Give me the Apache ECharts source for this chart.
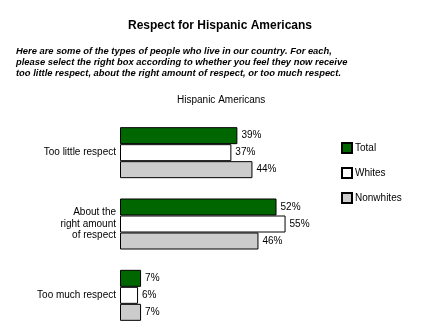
<!DOCTYPE html>
<html>
<head>
<meta charset="utf-8">
<script src="https://cdn.jsdelivr.net/npm/echarts@6/dist/echarts.min.js"></script>
<style>
  html, body { margin: 0; padding: 0; background: #fff; }
  #chart { width: 440px; height: 335px; }
</style>
</head>
<body>
<div id="chart"></div>
<script>
// Survey responses, percent of respondents
const categories = ['Too little respect', 'About the\nright amount\nof respect', 'Too much respect'];
const seriesNames = ['Total', 'Whites', 'Nonwhites'];
const totalValues = [39, 52, 7];
const whitesValues = [37, 55, 6];
const nonwhitesValues = [44, 46, 7];

const seriesColors = ['#006600', '#ffffff', '#cccccc'];
const seriesValues = [totalValues, whitesValues, nonwhitesValues];

const FONT = 'Liberation Sans, Arial, sans-serif';

const chart = echarts.init(document.getElementById('chart'), null, { renderer: 'canvas' });

chart.setOption({
  animation: false,
  textStyle: { fontFamily: FONT },
  title: [
    {
      text: 'Respect for Hispanic Americans',
      left: 'center',
      top: 20,
      padding: 0,
      textStyle: { fontSize: 12, fontWeight: 'bold', color: '#000', fontFamily: FONT }
    },
    {
      text: 'Here are some of the types of people who live in our country. For each,\nplease select the right box according to whether you feel they now receive\ntoo little respect, about the right amount of respect, or too much respect.',
      left: 16,
      top: 46,
      padding: 0,
      textStyle: { fontSize: 9.4, fontWeight: 'bold', fontStyle: 'italic', color: '#000', lineHeight: 11, fontFamily: FONT }
    },
    {
      text: 'Hispanic Americans',
      left: 177,
      top: 95,
      padding: 0,
      textStyle: { fontSize: 10, fontWeight: 'normal', color: '#000', fontFamily: FONT }
    }
  ],
  legend: {
    orient: 'vertical',
    left: 341,
    top: 142,
    padding: 0,
    itemWidth: 10,
    itemHeight: 10,
    itemGap: 13,
    icon: 'rect',
    data: seriesNames,
    textStyle: { fontSize: 10, color: '#000', fontFamily: FONT, padding: [0, 0, 0, -2] }
  },
  grid: { left: 120, right: 19, top: 117, bottom: 4, containLabel: false },
  xAxis: {
    type: 'value',
    min: 0,
    max: 100,
    show: false
  },
  yAxis: {
    type: 'category',
    inverse: true,
    data: categories,
    axisLine: { show: false },
    axisTick: { show: false },
    axisLabel: { margin: 4, fontSize: 10, color: '#000', lineHeight: 11.5, align: 'right', fontFamily: FONT }
  },
  series: seriesNames.map((name, i) => ({
    name: name,
    type: 'bar',
    data: seriesValues[i],
    barWidth: 17,
    barGap: '0%',
    itemStyle: { color: seriesColors[i], borderColor: '#000', borderWidth: 1 },
    label: {
      show: true,
      position: 'right',
      distance: 4,
      formatter: '{c}%',
      fontSize: 10,
      color: '#000',
      fontFamily: FONT
    }
  }))
});
</script>
</body>
</html>
